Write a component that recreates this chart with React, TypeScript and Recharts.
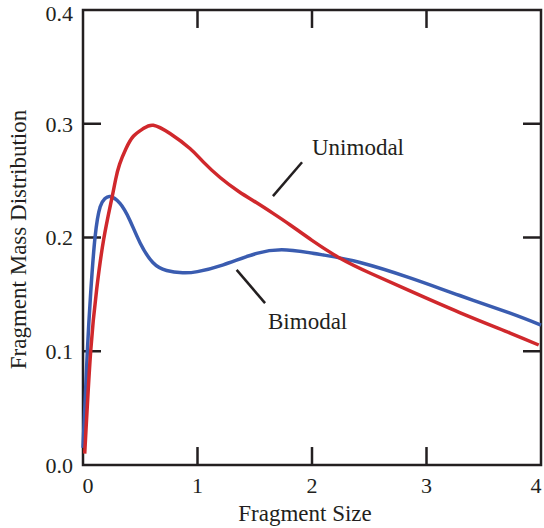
import React from 'react';
import { LineChart, Line, XAxis, YAxis, ReferenceArea, ReferenceLine, ReferenceDot } from 'recharts';

const xTicks = [0, 1, 2, 3, 4];
const yTicks = [0, 0.1, 0.2, 0.3, 0.4];
const innerXTicks = [1, 2, 3];
const innerYTicks = [0.1, 0.2, 0.3];

const unimodalSize = [0.015, 0.067, 0.12, 0.18, 0.25, 0.285, 0.32, 0.376, 0.44, 0.527, 0.614, 0.76, 0.934, 1.05, 1.2, 1.36, 1.517, 1.66, 1.81, 2.0, 2.245, 2.51, 2.856, 3.29, 3.73, 3.98];
const unimodalMass = [0.01, 0.1, 0.155, 0.198, 0.2335, 0.251, 0.2645, 0.2782, 0.289, 0.2958, 0.2987, 0.2914, 0.2782, 0.2665, 0.2525, 0.2405, 0.2305, 0.2212, 0.211, 0.1975, 0.1818, 0.1686, 0.153, 0.134, 0.116, 0.1055];

const bimodalSize = [0, 0.038, 0.067, 0.105, 0.15, 0.19, 0.236, 0.323, 0.41, 0.5, 0.61, 0.73, 0.87, 1.0, 1.225, 1.517, 1.78, 2.1, 2.42, 2.856, 3.29, 3.73, 4.0];
const bimodalMass = [0.015, 0.1, 0.151, 0.2, 0.227, 0.234, 0.236, 0.23, 0.215, 0.195, 0.178, 0.171, 0.169, 0.17, 0.176, 0.186, 0.189, 0.1846, 0.178, 0.1645, 0.149, 0.1335, 0.123];

const annotationLabels = ['Unimodal', 'Bimodal'];
const annotationTextX = [2.0, 1.616];
const annotationTextY = [0.2796, 0.1268];
const annotationLineStart = [[1.913, 0.2662], [1.342, 0.1715]];
const annotationLineEnd = [[1.659, 0.2364], [1.59, 0.1423]];

const unimodal = unimodalSize.map((x, i) => ({ x, y: unimodalMass[i] }));
const bimodal = bimodalSize.map((x, i) => ({ x, y: bimodalMass[i] }));

const INK = '#231f20';
const RED = '#d0282c';
const BLUE = '#3a5cb0';
const FONT = '"Liberation Serif", "Times New Roman", serif';
const XTICK_LEN = 0.157;
const YTICK_LEN = 0.0158;

const XTick = (props: any) => {
  const { x, y, payload, index } = props;
  const shift = index === 0 ? 5 : index === xTicks.length - 1 ? -4 : 0;
  return (
    <text x={x + shift} y={y} dy="0.71em" textAnchor="middle" fontFamily={FONT} fontSize={22} fill={INK}>
      {payload.value}
    </text>
  );
};

export default function App() {
  return (
    <div style={{ position: 'absolute', left: 0, top: 0 }}>
      <LineChart width={544} height={528} margin={{ top: 10, right: 3, bottom: 0, left: 0 }}>
        <XAxis
          type="number"
          dataKey="x"
          domain={[0, 4]}
          ticks={xTicks}
          axisLine={false}
          tickLine={false}
          tickSize={0}
          tickMargin={12}
          height={63}
          tick={<XTick />}
          label={{ value: 'Fragment Size', position: 'insideBottom', offset: 7, dx: -7, fontFamily: FONT, fontSize: 23, fill: INK }}
        />
        <YAxis
          type="number"
          domain={[0, 0.4]}
          ticks={yTicks}
          axisLine={false}
          tickLine={false}
          tickSize={0}
          tickMargin={10}
          width={83}
          tickFormatter={(v: number) => v.toFixed(1)}
          tick={{ fontFamily: FONT, fontSize: 22, fill: INK }}
          label={{ value: 'Fragment Mass Distribution', position: 'center', angle: -90, dx: -24, dy: 2, fontFamily: FONT, fontSize: 23, fill: INK }}
        />
        <ReferenceArea x1={0} x2={4} y1={0} y2={0.4} fill="none" fillOpacity={0} stroke={INK} strokeWidth={2.5} />
        {innerXTicks.map((t) => (
          <ReferenceLine key={'b' + t} segment={[{ x: t, y: 0 }, { x: t, y: YTICK_LEN }]} stroke={INK} strokeWidth={2.5} />
        ))}
        {innerXTicks.map((t) => (
          <ReferenceLine key={'t' + t} segment={[{ x: t, y: 0.4 }, { x: t, y: 0.4 - YTICK_LEN }]} stroke={INK} strokeWidth={2.5} />
        ))}
        {innerYTicks.map((t) => (
          <ReferenceLine key={'l' + t} segment={[{ x: 0, y: t }, { x: XTICK_LEN, y: t }]} stroke={INK} strokeWidth={2.5} />
        ))}
        {innerYTicks.map((t) => (
          <ReferenceLine key={'r' + t} segment={[{ x: 4, y: t }, { x: 4 - XTICK_LEN, y: t }]} stroke={INK} strokeWidth={2.5} />
        ))}
        {annotationLabels.map((lab, i) => (
          <ReferenceLine
            key={'al' + i}
            segment={[
              { x: annotationLineStart[i][0], y: annotationLineStart[i][1] },
              { x: annotationLineEnd[i][0], y: annotationLineEnd[i][1] },
            ]}
            stroke={INK}
            strokeWidth={2.5}
          />
        ))}
        {annotationLabels.map((lab, i) => (
          <ReferenceDot
            key={'at' + i}
            x={annotationTextX[i]}
            y={annotationTextY[i]}
            r={0}
            fill="none"
            stroke="none"
            label={{ value: lab, position: 'right', offset: 0, fontFamily: FONT, fontSize: 23, fill: INK }}
          />
        ))}
        <Line data={bimodal} dataKey="y" type="natural" stroke={BLUE} strokeWidth={3.5} dot={false} isAnimationActive={false} />
        <Line data={unimodal} dataKey="y" type="natural" stroke={RED} strokeWidth={3.5} dot={false} isAnimationActive={false} />
      </LineChart>
    </div>
  );
}
